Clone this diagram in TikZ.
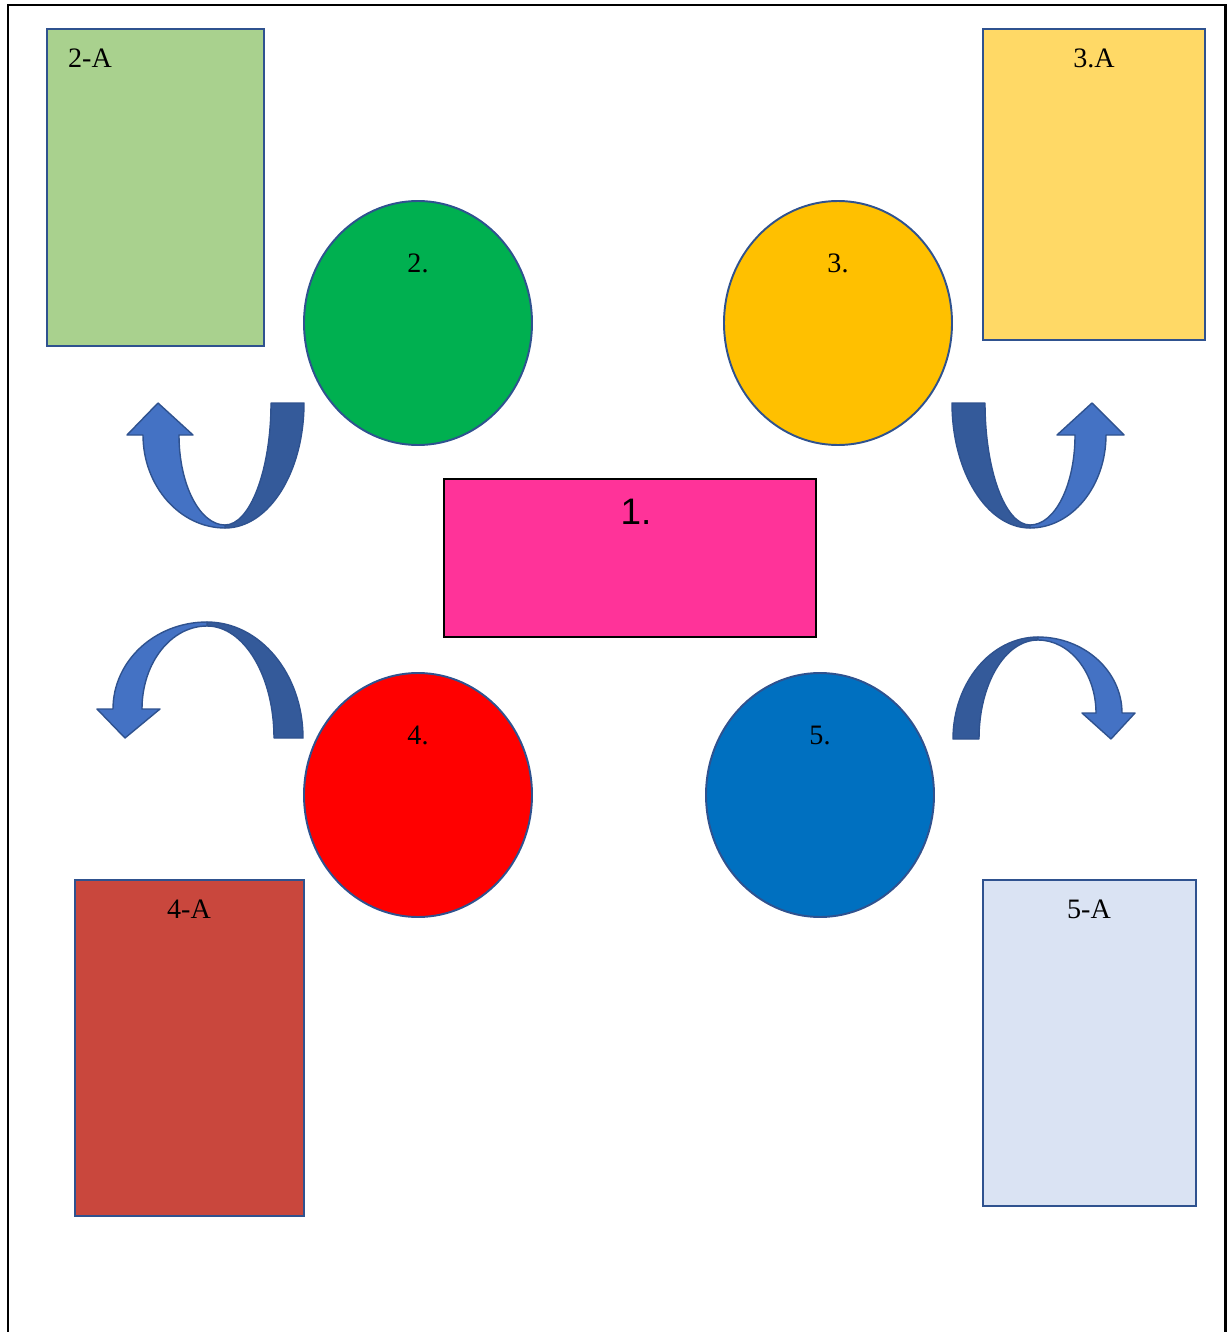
\documentclass[tikz,border=0pt]{standalone}
\usepackage{fontspec}
\setmainfont{Liberation Serif}
\newfontfamily\headfont{Liberation Sans}
\definecolor{edgeblue}{HTML}{2F528F}
\definecolor{arrowdark}{HTML}{345A9A}
\definecolor{arrowlight}{HTML}{4472C4}
\definecolor{greenbox}{HTML}{A9D18E}
\definecolor{yellowbox}{HTML}{FFD966}
\definecolor{redbox}{HTML}{C9473D}
\definecolor{bluebox}{HTML}{DAE3F3}
\definecolor{greendisc}{HTML}{00B050}
\definecolor{yellowdisc}{HTML}{FFC000}
\definecolor{bluedisc}{HTML}{0070C0}
\definecolor{pinkbox}{HTML}{FF3399}

\begin{document}
\begin{tikzpicture}[x=0.02cm, y=-0.02cm,
    box/.style={draw=edgeblue, line width=1.1pt},
    lbl/.style={font=\fontsize{16}{19}\selectfont, inner sep=0pt},
    back/.style={fill=arrowdark, draw=edgeblue, line width=0.8pt, line join=round},
    front/.style={fill=arrowlight, draw=edgeblue, line width=0.8pt, line join=round}]
    \useasboundingbox (0,0) rectangle (1227,1332);

    % Page frame (open at the bottom)
    \draw[line width=1.7pt] (8,1332) -- (8,5) -- (1225,5) -- (1225,1332);

    % Center box
    \draw[fill=pinkbox, draw=black, line width=1.4pt] (444,479) rectangle (816,637);
    \node[font=\headfont\fontsize{21}{25}\selectfont, inner sep=0pt] (one) at (636,512) {1.};

    % Circles
    \draw[box, fill=greendisc] (418,323) ellipse [x radius=114, y radius=122];
    \node[lbl] (two) at (418,263) {2.};
    \draw[box, fill=yellowdisc] (838,323) ellipse [x radius=114, y radius=122];
    \node[lbl] (three) at (838,263) {3.};
    \draw[box, fill=red] (418,795) ellipse [x radius=114, y radius=122];
    \node[lbl] (four) at (418,735) {4.};
    \draw[box, fill=bluedisc] (820,795) ellipse [x radius=114, y radius=122];
    \node[lbl] (five) at (820,735) {5.};

    % Side boxes
    \draw[box, fill=greenbox] (47,29) rectangle (264,346);
    \node[lbl] (twoA) at (90,58) {2-A};
    \draw[box, fill=yellowbox] (983,29) rectangle (1205,340);
    \node[lbl] (threeA) at (1094,58) {3.A};
    \draw[box, fill=redbox] (75,880) rectangle (304,1216);
    \node[lbl] (fourA) at (189,909) {4-A};
    \draw[box, fill=bluebox] (983,880) rectangle (1196,1206);
    \node[lbl] (fiveA) at (1089,909) {5-A};

    % Curved arrow 2 -> 2-A
    \draw[back] (271,403) -- (304,403) .. controls (304,472) and (269,528) .. (225,528)
        -- (225,525) .. controls (250,525) and (271,470) .. (271,403) -- cycle;
    \draw[front] (225,525) .. controls (200,525) and (179,485) .. (179,435)
        -- (193,435) -- (158,403) -- (127,435) -- (143,435)
        .. controls (143,486) and (180,528) .. (225,528) -- cycle;

    % Curved arrow 3 -> 3.A
    \draw[back] (985,403) -- (952,403) .. controls (952,472) and (987,528) .. (1030,528)
        -- (1030,525) .. controls (1005,525) and (985,470) .. (985,403) -- cycle;
    \draw[front] (1030,525) .. controls (1055,525) and (1075,485) .. (1075,435)
        -- (1057,435) -- (1092,403) -- (1124,435) -- (1106,435)
        .. controls (1106,486) and (1072,528) .. (1030,528) -- cycle;

    % Curved arrow 4 -> 4-A
    \draw[back] (274,738) -- (303,738) .. controls (303,674) and (260,622) .. (207,622)
        -- (207,626) .. controls (244,626) and (274,676) .. (274,738) -- cycle;
    \draw[front] (207,622) .. controls (155,622) and (113,661) .. (113,709)
        -- (97,709) -- (125,738) -- (160,709) -- (142,709)
        .. controls (142,663) and (171,626) .. (207,626) -- cycle;

    % Curved arrow 5 -> 5-A
    \draw[back] (979,739) -- (953,739) .. controls (953,683) and (991,637) .. (1038,637)
        -- (1038,640) .. controls (1005,640) and (979,684) .. (979,739) -- cycle;
    \draw[front] (1038,637) .. controls (1084,637) and (1122,671) .. (1122,713)
        -- (1135,713) -- (1111,739) -- (1082,713) -- (1096,713)
        .. controls (1096,673) and (1070,640) .. (1038,640) -- cycle;
\end{tikzpicture}
\end{document}
